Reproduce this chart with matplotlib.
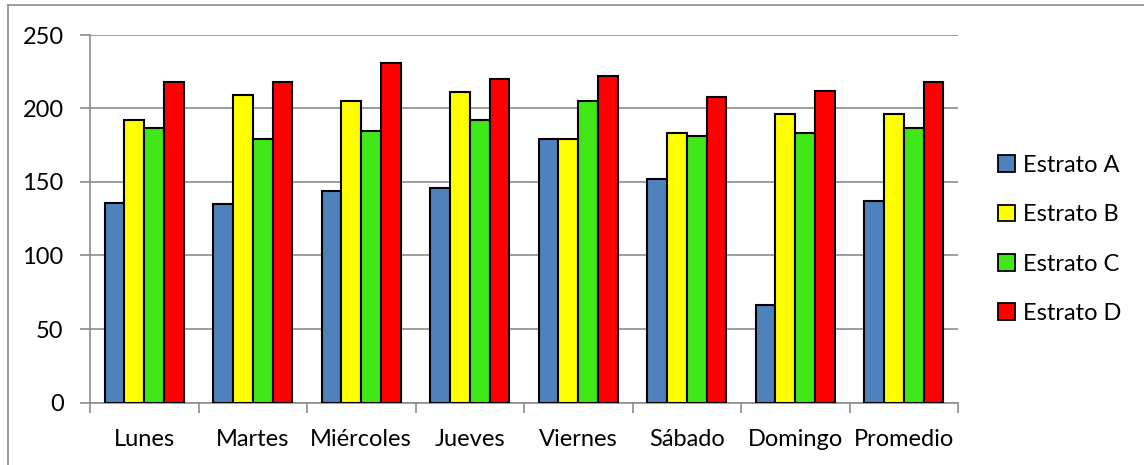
import matplotlib.pyplot as plt
import numpy as np
from matplotlib.lines import Line2D

dias = ['Lunes', 'Martes', 'Miércoles', 'Jueves', 'Viernes', 'Sábado', 'Domingo', 'Promedio']
estratos = ['Estrato A', 'Estrato B', 'Estrato C', 'Estrato D']

estrato_a = [136, 135, 144, 146, 179, 152, 66, 137]
estrato_b = [192, 209, 205, 211, 179, 183, 196, 196]
estrato_c = [187, 179, 185, 192, 205, 181, 183, 187]
estrato_d = [218, 218, 231, 220, 222, 208, 212, 218]

colores = ['#4F81BD', '#FFFF00', '#40E81A', '#FF0000']


def main():
    plt.rcParams['font.family'] = ['Lato', 'DejaVu Sans']
    fig = plt.figure(figsize=(11.44, 4.65), dpi=100)
    ax = fig.add_axes([90 / 1144, 1 - 402.5 / 465, 868 / 1144, 367.5 / 465])

    x = np.arange(len(dias))
    ancho = 0.183
    series = [estrato_a, estrato_b, estrato_c, estrato_d]
    for i, (vals, col) in enumerate(zip(series, colores)):
        ax.bar(x + (i - 1.5) * ancho, vals, ancho, color=col,
               edgecolor='black', linewidth=1.5, label=estratos[i], zorder=3)

    ax.set_xlim(-0.5, len(dias) - 0.5)
    ax.set_ylim(0, 250)
    ax.set_yticks(range(0, 251, 50))
    ax.yaxis.grid(True, color='#8C8C8C', linewidth=1.2, zorder=0)

    ax.set_xticks(x)
    ax.set_xticklabels(dias, fontsize=17)
    ax.set_xticks(np.arange(-0.5, len(dias), 1), minor=True)
    ax.tick_params(axis='x', which='major', length=0, pad=19)
    ax.tick_params(axis='x', which='minor', length=7, color='#8C8C8C', width=1.2)
    ax.tick_params(axis='y', length=7, color='#8C8C8C', width=1.2, labelsize=17, pad=12)

    for lado in ['top', 'right']:
        ax.spines[lado].set_visible(False)
    for lado in ['left', 'bottom']:
        ax.spines[lado].set_color('#8C8C8C')
        ax.spines[lado].set_linewidth(1.2)

    handles = [plt.Rectangle((0, 0), 1, 1, facecolor=c, edgecolor='black', linewidth=1.3)
               for c in colores]
    fig.legend(handles, estratos, loc='center left', bbox_to_anchor=(989 / 1144, 1 - 239.5 / 465),
               frameon=False, fontsize=17, handlelength=0.7, handleheight=0.7,
               handletextpad=0.35, labelspacing=1.2, borderaxespad=0)

    # marco exterior del gráfico
    fig.add_artist(Line2D([8 / 1144, 1], [1 - 5 / 465, 1 - 5 / 465], color='#8C8C8C',
                          linewidth=1.2, transform=fig.transFigure))
    fig.add_artist(Line2D([8 / 1144, 8 / 1144], [0, 1 - 5 / 465], color='#8C8C8C',
                          linewidth=1.2, transform=fig.transFigure))

    fig.savefig('out.png', dpi=100)
    plt.close(fig)


if __name__ == "__main__":
    main()
